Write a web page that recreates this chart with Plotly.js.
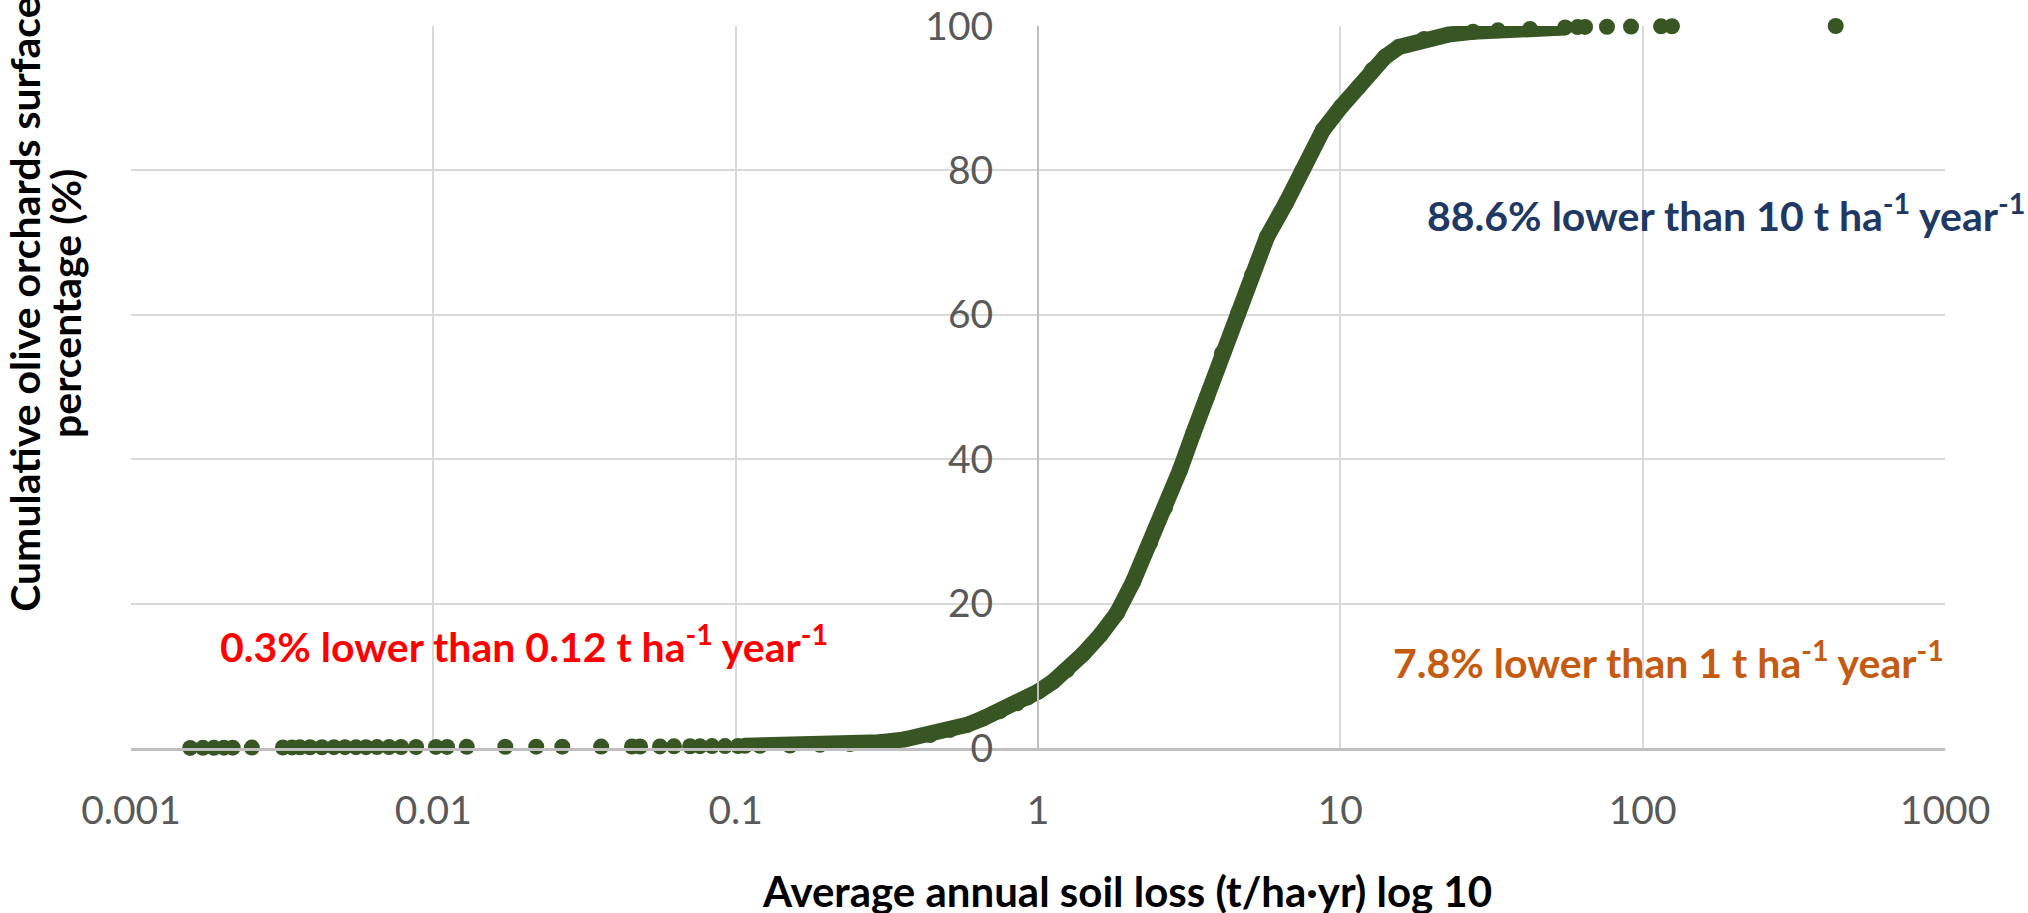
<!DOCTYPE html>
<html>
<head>
<meta charset="utf-8">
<script src="https://cdn.plot.ly/plotly-3.0.1.min.js"></script>
<style>
  html, body { margin: 0; padding: 0; background: #ffffff; }
  #chart { width: 2028px; height: 913px; }
</style>
</head>
<body>
<div id="chart"></div>
<script>
// ---- Data ----
// Isolated low-erosion points (left tail, y ~ 0)
const tailLowX = [0.00157, 0.00173, 0.00188, 0.00203, 0.00217, 0.00251, 0.00318, 0.00341,
  0.00362, 0.00391, 0.00428, 0.00469, 0.0051, 0.00555, 0.00599, 0.00651, 0.00714, 0.00782,
  0.00877, 0.0102, 0.0111, 0.0129, 0.0173, 0.0219, 0.0267, 0.0359, 0.0454, 0.0483, 0.0562,
  0.0625, 0.0707, 0.0762, 0.0835, 0.0922, 0.1018];
const tailLowY = [0.01, 0.02, 0.03, 0.04, 0.05, 0.06, 0.07, 0.08,
  0.09, 0.10, 0.10, 0.11, 0.11, 0.12, 0.12, 0.13, 0.13, 0.14,
  0.14, 0.15, 0.15, 0.16, 0.17, 0.18, 0.19, 0.20, 0.21, 0.21, 0.22,
  0.23, 0.24, 0.25, 0.26, 0.27, 0.28];

// Dense central part of the cumulative curve
const curveX = [0.1074, 0.1203, 0.1512, 0.190, 0.2388, 0.3001, 0.3633, 0.4393, 0.5117,
  0.5824, 0.6577, 0.7487, 0.8523, 0.9266, 1.0, 1.121, 1.247, 1.409, 1.604, 1.825, 2.062,
  2.347, 2.631, 2.949, 3.256, 3.623, 4.061, 4.587, 5.104, 5.721, 6.612, 7.468, 8.764,
  10.05, 11.53, 12.73, 14.05, 15.64, 18.91, 22.71, 27.47, 33.23, 42.41, 55.4];
const curveY = [0.3, 0.3, 0.35, 0.45, 0.55, 0.8, 1.2, 1.8, 2.5,
  3.2, 4.1, 5.1, 6.2, 7.0, 7.8, 9.2, 10.8, 13.0, 15.6, 18.7, 23.0,
  28.4, 33.3, 38.5, 43.5, 48.6, 54.7, 60.2, 65.5, 70.8, 75.5, 79.9, 85.6,
  88.8, 91.6, 93.9, 95.7, 97.1, 98.2, 98.8, 99.2, 99.4, 99.6, 99.8];

// Isolated high-erosion points (right tail, y ~ 100)
const tailHighX = [60.9, 64.5, 76.2, 91.5, 115, 125, 435];
const tailHighY = [99.85, 99.87, 99.9, 99.92, 99.95, 99.97, 100];

// Axis ticks
const xTickVals = [0.001, 0.01, 0.1, 1, 10, 100, 1000];
const xTickText = ['0.001', '0.01', '0.1', '1', '10', '100', '1000'];
const yTickVals = [0, 20, 40, 60, 80, 100];

// Labels
const xTitle = 'Average annual soil loss (t/ha\u00B7yr) log 10';
const yTitleLines = ['Cumulative olive orchards surface', 'percentage (%)'];
const notes = [
  {text: '0.3% lower than 0.12 t ha<sup>-1</sup> year<sup>-1</sup>', color: '#FF0000'},
  {text: '7.8% lower than 1 t ha<sup>-1</sup> year<sup>-1</sup>', color: '#C55A11'},
  {text: '88.6% lower than 10 t ha<sup>-1</sup> year<sup>-1</sup>', color: '#203864'}
];

// ---- Chart ----
const green = '#375623';
const FONT = 'Lato, "Open Sans", sans-serif';

const traces = [
  {
    x: tailLowX, y: tailLowY, type: 'scatter', mode: 'markers',
    marker: {color: green, size: 16}, cliponaxis: false, hoverinfo: 'x+y'
  },
  {
    x: curveX, y: curveY, type: 'scatter', mode: 'lines+markers',
    line: {color: green, width: 16}, marker: {color: green, size: 16},
    cliponaxis: false, hoverinfo: 'x+y'
  },
  {
    x: tailHighX, y: tailHighY, type: 'scatter', mode: 'markers',
    marker: {color: green, size: 16}, cliponaxis: false, hoverinfo: 'x+y'
  }
];

const notePos = [
  {x: 0.2164, y: 0.144},
  {x: 0.8476, y: 0.1219},
  {x: 0.8795, y: 0.741}
];

const annotations = notes.map((n, i) => ({
  xref: 'paper', yref: 'paper', x: notePos[i].x, y: notePos[i].y,
  xanchor: 'center', yanchor: 'middle', showarrow: false,
  text: n.text, font: {family: FONT, size: 41, color: n.color, weight: 700}
}));

annotations.push({
  xref: 'paper', yref: 'paper', x: 0.549, y: -0.198,
  xanchor: 'center', yanchor: 'middle', showarrow: false,
  text: xTitle, font: {family: FONT, size: 42, color: '#000000', weight: 700}
});
// y-axis title, two rotated lines (pixel x centers ~25 and ~66, y center ~304)
const yTitleX = [-0.0585, -0.0358];
yTitleLines.forEach((t, i) => {
  annotations.push({
    xref: 'paper', yref: 'paper', x: yTitleX[i], y: 0.615,
    xanchor: 'center', yanchor: 'middle', showarrow: false, textangle: -90,
    text: t, font: {family: FONT, size: 41, color: '#000000', weight: 700}
  });
});

const layout = {
  width: 2028, height: 913,
  margin: {l: 131, r: 83, t: 26, b: 165},
  paper_bgcolor: '#ffffff', plot_bgcolor: '#ffffff',
  showlegend: false,
  font: {family: FONT},
  xaxis: {
    type: 'log', range: [-3, 3], domain: [0, 1],
    tickmode: 'array', tickvals: xTickVals, ticktext: xTickText,
    showgrid: true, gridcolor: '#D9D9D9', gridwidth: 2,
    showline: true, linecolor: '#BFBFBF', linewidth: 3,
    ticks: '', ticklabelstandoff: 26,
    tickfont: {family: FONT, size: 39, color: '#595959'},
    zeroline: false
  },
  yaxis: {
    range: [0, 100], anchor: 'free', position: 0.5,
    tickmode: 'array', tickvals: yTickVals,
    showgrid: true, gridcolor: '#D9D9D9', gridwidth: 2,
    showline: true, linecolor: '#BFBFBF', linewidth: 2,
    ticks: '', ticklabelstandoff: 36,
    tickfont: {family: FONT, size: 39, color: '#595959'},
    zeroline: false
  },
  annotations: annotations
};

Plotly.newPlot('chart', traces, layout, {displayModeBar: false, staticPlot: true});
</script>
</body>
</html>
